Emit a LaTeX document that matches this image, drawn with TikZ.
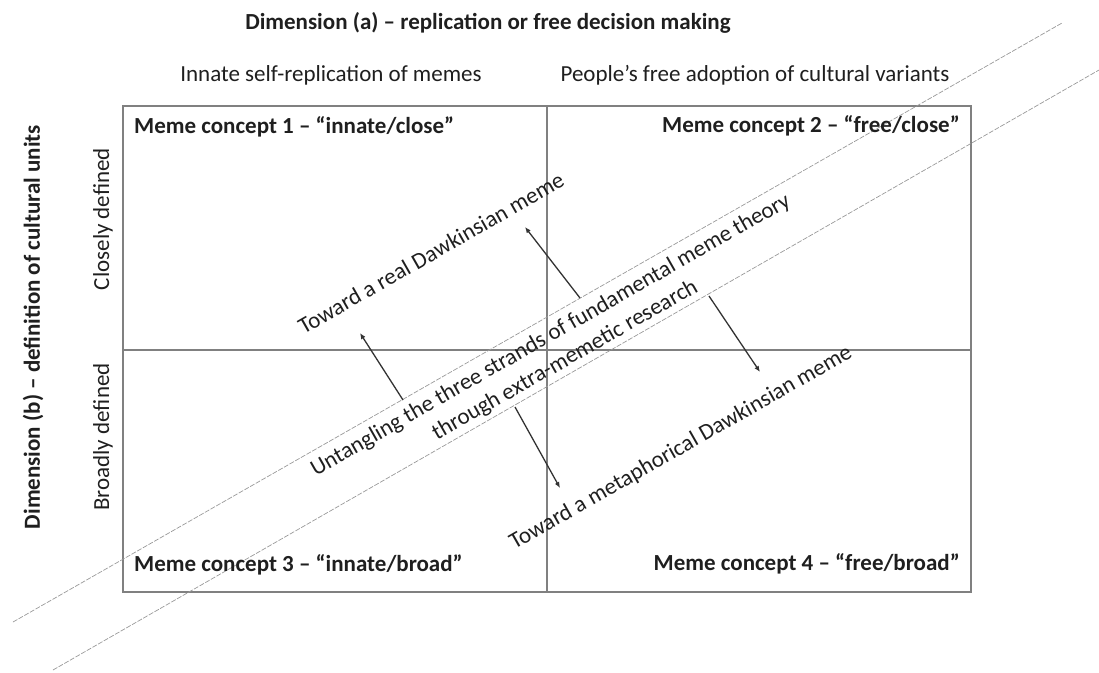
\documentclass[tikz,border=0pt]{standalone}
\usepackage{fontspec}
\setmainfont{Carlito}
\usetikzlibrary{arrows.meta}
\begin{document}
\begin{tikzpicture}[x=1pt,y=-1pt,
  lbl/.style={inner sep=0pt, text=black!88, font=\fontsize{23}{29}\selectfont},
  blbl/.style={inner sep=0pt, text=black!88, font=\fontsize{23}{29}\selectfont\bfseries},
  gridline/.style={draw=black!50, line width=2pt},
  bandline/.style={draw=black!40, line width=0.7pt, dash pattern=on 5pt off 1.5pt},
  arr/.style={draw=black!80, line width=1.3pt, -{Latex[length=6pt,width=5pt]}}]
\useasboundingbox (0,0) rectangle (1099,672);

% quadrant frame
\draw[gridline] (123,106) rectangle (971,592);
\draw[gridline] (547,106) -- (547,592);
\draw[gridline] (123,350) -- (971,350);

% band lines
\coordinate (u1) at (13,622);
\coordinate (u2) at (1062,23);
\coordinate (l1) at (53,670);
\coordinate (l2) at (1099,70);
\draw[bandline] (u1) -- (u2);
\draw[bandline] (l1) -- (l2);

% titles
\node[blbl] (title) at (488,23) {Dimension (a) – replication or free decision making};
\node[lbl] (colA) at (331,75) {Innate self-replication of memes};
\node[lbl] (colB) at (755,75) {People’s free adoption of cultural variants};
\node[blbl, rotate=90] (dimb) at (33,327) {Dimension (b) – definition of cultural units};
\node[lbl, rotate=90] (rowA) at (103,219) {Closely defined};
\node[lbl, rotate=90] (rowB) at (103,437) {Broadly defined};

% quadrant labels
\node[blbl, anchor=west] (q1) at (134,127) {Meme concept 1 – “innate/close”};
\node[blbl, anchor=east] (q2) at (960,126) {Meme concept 2 – “free/close”};
\node[blbl, anchor=west] (q3) at (134,565) {Meme concept 3 – “innate/broad”};
\node[blbl, anchor=east] (q4) at (960,564) {Meme concept 4 – “free/broad”};

% band text and direction labels
\node[lbl, rotate=29.7, align=center] (band) at (558,348)
  {Untangling the three strands of fundamental meme theory\\through extra-memetic research};
\node[lbl, rotate=29.7] (real) at (431,253) {Toward a real Dawkinsian meme};
\node[lbl, rotate=29.7] (meta) at (681,448) {Toward a metaphorical Dawkinsian meme};

% arrows
\coordinate (a1s) at (580,298); \coordinate (a1e) at (525,227);
\coordinate (a2s) at (403,400); \coordinate (a2e) at (360,333);
\coordinate (a3s) at (709,296); \coordinate (a3e) at (760,372);
\coordinate (a4s) at (515,407); \coordinate (a4e) at (560,488);
\draw[arr] (a1s) -- (a1e);
\draw[arr] (a2s) -- (a2e);
\draw[arr] (a3s) -- (a3e);
\draw[arr] (a4s) -- (a4e);
\end{tikzpicture}
\end{document}
